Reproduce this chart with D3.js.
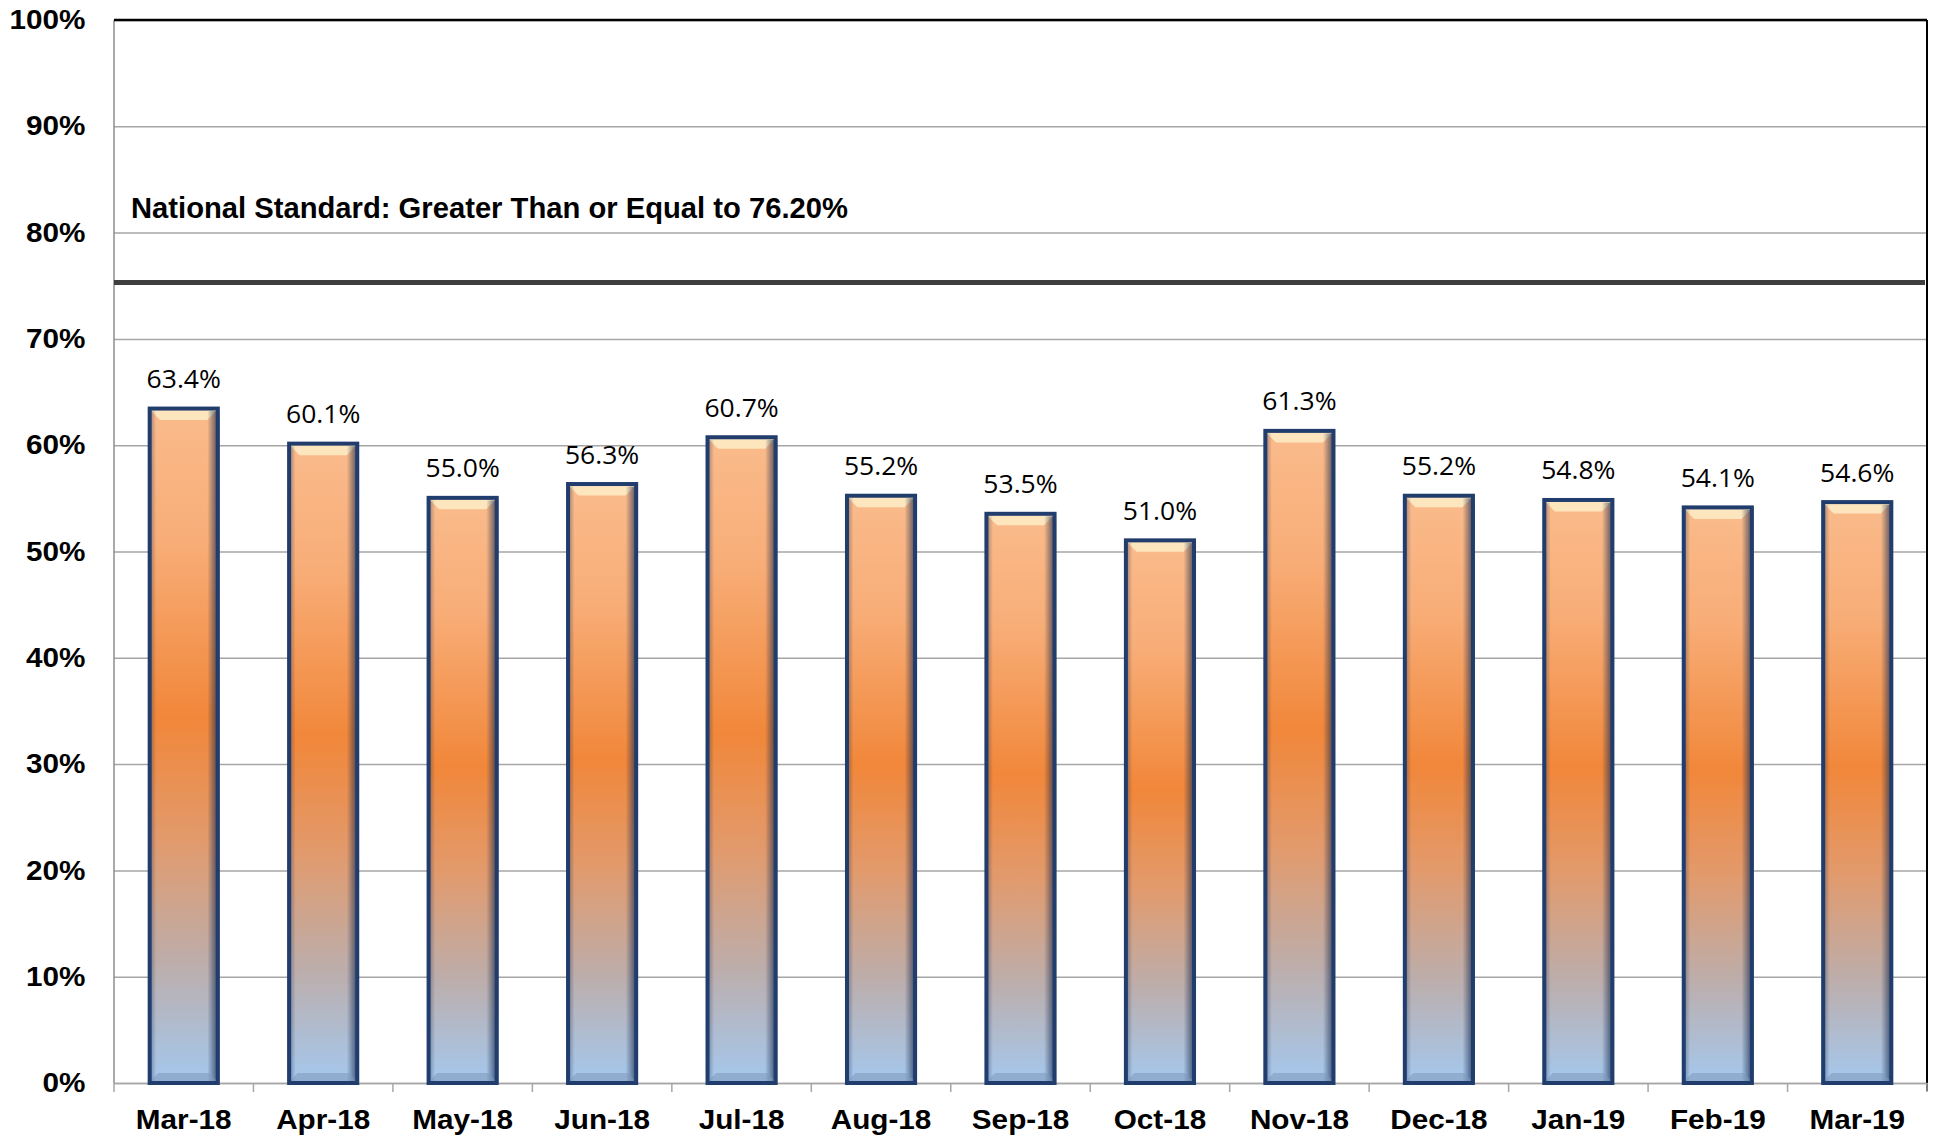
<!DOCTYPE html>
<html>
<head>
<meta charset="utf-8">
<script src="https://cdn.jsdelivr.net/npm/d3@7"></script>
<style>
  body { margin: 0; background: #fff; }
  .axis text { font-family: "Liberation Sans", Arial, sans-serif; font-weight: bold; fill: #000; }
  .val { font-family: "Open Sans", sans-serif; font-size: 25px; fill: #000; }
</style>
</head>
<body>
<svg id="chart" width="1936" height="1136"></svg>
<script>
const months = ["Mar-18", "Apr-18", "May-18", "Jun-18", "Jul-18", "Aug-18", "Sep-18",
  "Oct-18", "Nov-18", "Dec-18", "Jan-19", "Feb-19", "Mar-19"];
const rates = [63.4, 60.1, 55.0, 56.3, 60.7, 55.2, 53.5, 51.0, 61.3, 55.2, 54.8, 54.1, 54.6];
const yTicks = [0, 10, 20, 30, 40, 50, 60, 70, 80, 90, 100];
const standardLine = 75.3; // where the line sits in the picture
const standardLabel = "National Standard: Greater Than or Equal to 76.20%";

const svg = d3.select("#chart");
const margin = { top: 20, right: 9, bottom: 53, left: 114 };
const width = +svg.attr("width") - margin.left - margin.right;
const height = +svg.attr("height") - margin.top - margin.bottom;

const x = d3.scaleBand().domain(months).range([0, width])
  .paddingInner(0.49).paddingOuter(0.245);
const y = d3.scaleLinear().domain([0, 100]).range([height, 0]);

const defs = svg.append("defs");
const grad = defs.append("linearGradient").attr("id", "barFill")
  .attr("x1", 0).attr("y1", 0).attr("x2", 0).attr("y2", 1);
[[0, "#fabb8c"], [0.2, "#f8ad77"], [0.46, "#f1873a"], [0.64, "#e29a6c"],
 [0.82, "#bdadaa"], [1, "#a4c8ee"]].forEach(([o, c]) =>
  grad.append("stop").attr("offset", o).attr("stop-color", c));
const side = defs.append("linearGradient").attr("id", "rightShade")
  .attr("x1", 0).attr("y1", 0).attr("x2", 1).attr("y2", 0);
side.append("stop").attr("offset", 0).attr("stop-color", "#1a2c4f").attr("stop-opacity", 0);
side.append("stop").attr("offset", 1).attr("stop-color", "#1a2c4f").attr("stop-opacity", 0.85);
const lside = defs.append("linearGradient").attr("id", "leftShade")
  .attr("x1", 0).attr("y1", 0).attr("x2", 1).attr("y2", 0);
lside.append("stop").attr("offset", 0).attr("stop-color", "#1a2c4f").attr("stop-opacity", 0.5);
lside.append("stop").attr("offset", 1).attr("stop-color", "#1a2c4f").attr("stop-opacity", 0);

const g = svg.append("g").attr("transform", `translate(${margin.left},${margin.top})`);

// gridlines
g.append("g")
  .call(d3.axisLeft(y).tickValues(yTicks).tickSize(-width).tickFormat(""))
  .call(a => a.select(".domain").remove())
  .call(a => a.selectAll("line").attr("stroke", "#a6a6a6").attr("stroke-width", 1.5));

// y labels
g.append("g").attr("class", "axis")
  .call(d3.axisLeft(y).tickValues(yTicks).tickFormat(d => d + "%").tickSize(0).tickPadding(26))
  .call(a => a.select(".domain").remove())
  .call(a => a.selectAll("text").style("font-size", "27px").attr("transform", "scale(1.1,1)"));

// frame: left + bottom gray, top + right black
g.append("line").attr("x1", 0).attr("x2", 0).attr("y1", 0).attr("y2", height)
  .attr("stroke", "#8c8c8c").attr("stroke-width", 1.5);
g.append("line").attr("x1", 0).attr("x2", width).attr("y1", 0).attr("y2", 0)
  .attr("stroke", "#000").attr("stroke-width", 2.5);
g.append("line").attr("x1", width).attr("x2", width).attr("y1", 0).attr("y2", height + 8)
  .attr("stroke", "#000").attr("stroke-width", 2);

// x axis
g.append("g").attr("class", "axis")
  .attr("transform", `translate(0,${height})`)
  .call(d3.axisBottom(x).tickSize(0).tickPadding(0))
  .call(a => a.select(".domain").attr("stroke", "#a6a6a6").attr("stroke-width", 1.5))
  .call(a => a.selectAll("text").style("font-size", "27px")
    .attr("y", 46).attr("dy", 0).attr("transform", "scale(1.1,1)"));

g.append("g").selectAll("line")
  .data(d3.range(months.length + 1))
  .join("line")
  .attr("x1", i => i * x.step()).attr("x2", i => i * x.step())
  .attr("y1", height).attr("y2", height + 9)
  .attr("stroke", "#a6a6a6").attr("stroke-width", 1.5);

// national standard
g.append("line")
  .attr("x1", 0).attr("x2", width - 2)
  .attr("y1", y(standardLine)).attr("y2", y(standardLine))
  .attr("stroke", "#3f3f3f").attr("stroke-width", 5);
g.append("text")
  .attr("x", 17).attr("y", y(standardLine) - 65)
  .attr("textLength", 717).attr("lengthAdjust", "spacingAndGlyphs")
  .style("font-family", "'Liberation Sans', Arial, sans-serif")
  .style("font-weight", "bold").style("font-size", "30px")
  .text(standardLabel);

// bars (outer edge sits 2px above the value, as in the picture)
const bw = x.bandwidth();
const lift = 2;
const bars = g.append("g").selectAll("g")
  .data(months.map((m, i) => ({ m, v: rates[i] })))
  .join("g")
  .attr("transform", d => `translate(${x(d.m)},0)`);

bars.append("rect")
  .attr("x", 0).attr("y", d => y(d.v) - lift)
  .attr("width", bw).attr("height", d => height - y(d.v) + lift)
  .attr("fill", "url(#barFill)");

// bevel: top highlight, side shading, bottom edge
bars.append("polygon")
  .attr("points", d => {
    const t = y(d.v) - lift + 3;
    return `2,${t} ${bw - 2},${t} ${bw - 12},${t + 10} 12,${t + 10}`;
  })
  .attr("fill", "#fde6bd");
bars.append("rect")
  .attr("x", bw - 12).attr("y", d => y(d.v) - lift + 4)
  .attr("width", 12).attr("height", d => height - y(d.v) + lift - 4)
  .attr("fill", "url(#rightShade)");
bars.append("rect")
  .attr("x", 0).attr("y", d => y(d.v) - lift + 4)
  .attr("width", 8).attr("height", d => height - y(d.v) + lift - 4)
  .attr("fill", "url(#leftShade)");
bars.append("polygon")
  .attr("points", `0,${height} ${bw},${height} ${bw - 10},${height - 10} 10,${height - 10}`)
  .attr("fill", "#7f98b8").attr("opacity", 0.55);
bars.append("rect")
  .attr("x", 1.5).attr("y", d => y(d.v) - lift + 1.5)
  .attr("width", bw - 3).attr("height", d => height - y(d.v) + lift - 1.5)
  .attr("fill", "none").attr("stroke", "#213d6e").attr("stroke-width", 4);

bars.append("text")
  .attr("class", "val")
  .attr("text-anchor", "middle")
  .attr("transform", `translate(${bw / 2},0) scale(1.06,1)`)
  .attr("y", d => y(d.v) - 21)
  .text(d => d.v.toFixed(1) + "%");
</script>
</body>
</html>
